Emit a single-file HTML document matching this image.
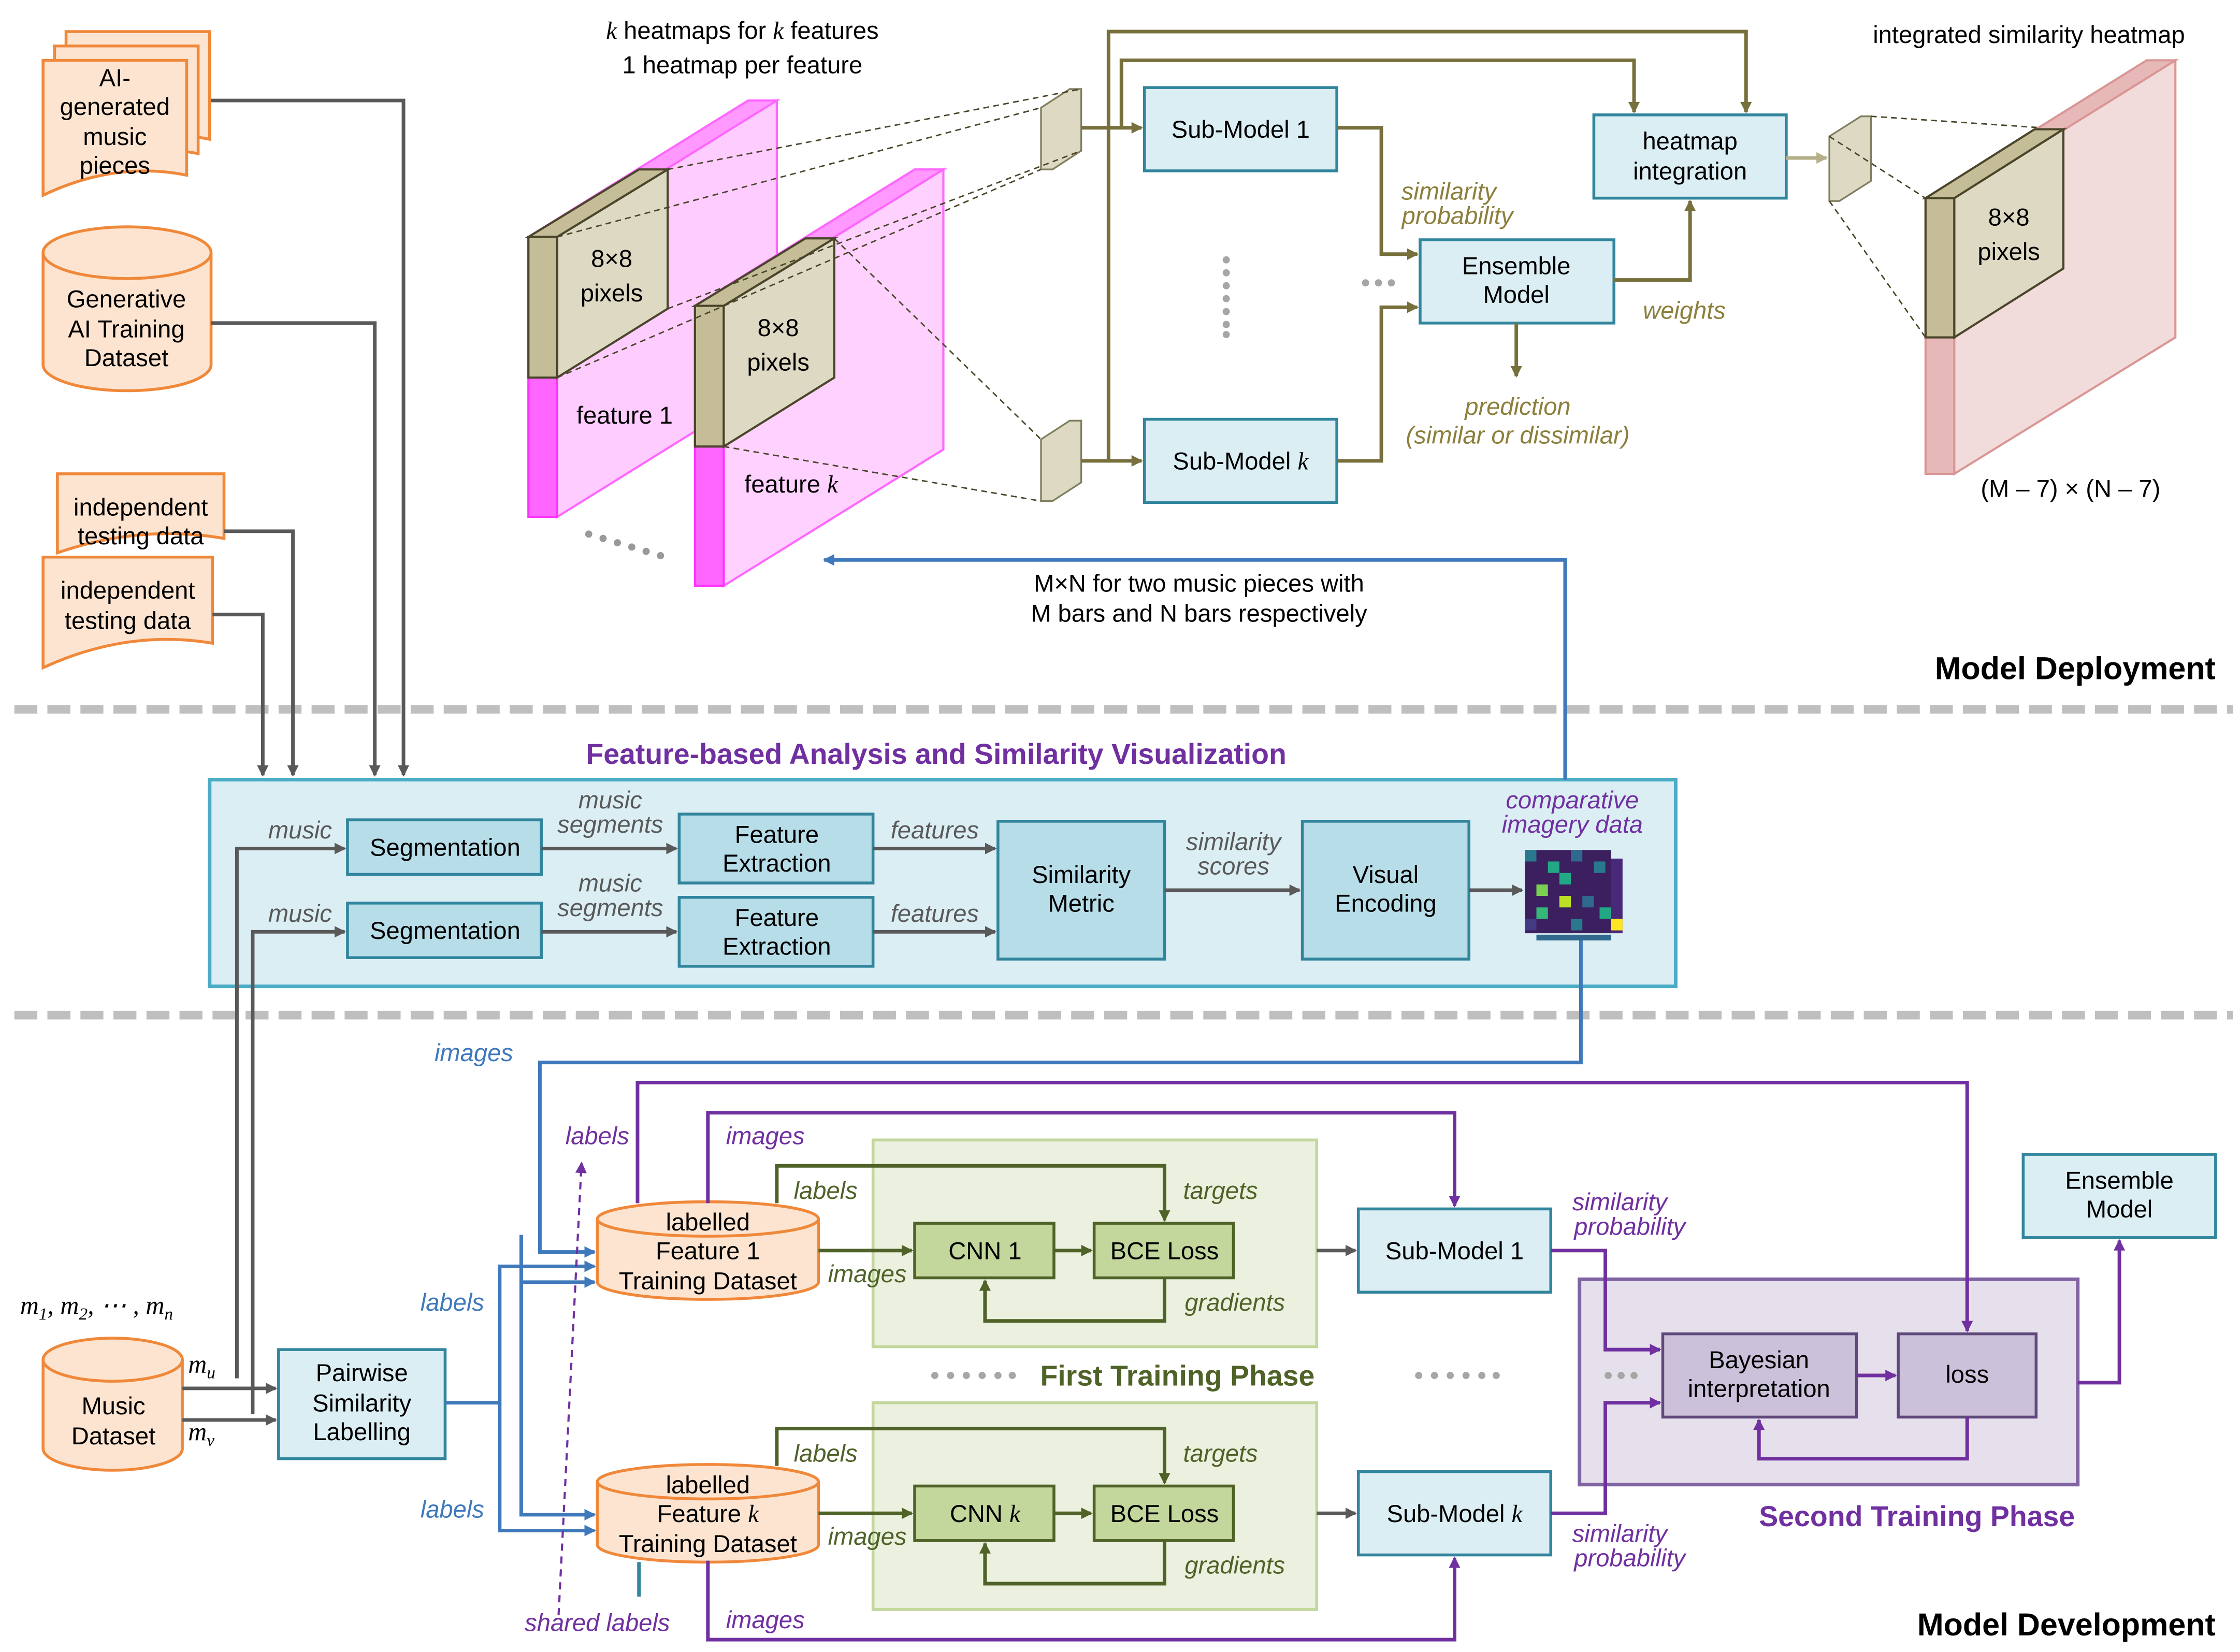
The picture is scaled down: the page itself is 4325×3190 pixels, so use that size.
<!DOCTYPE html>
<html><head><meta charset="utf-8"><style>html,body{margin:0;padding:0;background:#fff}svg{display:block}</style></head>
<body>
<svg width="4325" height="3190" viewBox="0 0 1560 1150.6" xmlns="http://www.w3.org/2000/svg" font-family="Liberation Sans, DejaVu Sans, sans-serif">
<defs>
<marker id="ag" markerWidth="8" markerHeight="8" refX="7" refY="4" orient="auto" markerUnits="userSpaceOnUse"><path d="M0,0 L8,4 L0,8z" fill="#595959"/></marker>
<marker id="ao" markerWidth="8" markerHeight="8" refX="7" refY="4" orient="auto" markerUnits="userSpaceOnUse"><path d="M0,0 L8,4 L0,8z" fill="#77703c"/></marker>
<marker id="ab" markerWidth="8" markerHeight="8" refX="7" refY="4" orient="auto" markerUnits="userSpaceOnUse"><path d="M0,0 L8,4 L0,8z" fill="#3f79bb"/></marker>
<marker id="ap" markerWidth="8" markerHeight="8" refX="7" refY="4" orient="auto" markerUnits="userSpaceOnUse"><path d="M0,0 L8,4 L0,8z" fill="#7030a0"/></marker>
<marker id="agr" markerWidth="8" markerHeight="8" refX="7" refY="4" orient="auto" markerUnits="userSpaceOnUse"><path d="M0,0 L8,4 L0,8z" fill="#4f6228"/></marker>
<marker id="al" markerWidth="8" markerHeight="8" refX="7" refY="4" orient="auto" markerUnits="userSpaceOnUse"><path d="M0,0 L8,4 L0,8z" fill="#b5b08a"/></marker>
</defs>
<g font-size="17" fill="#000">

<line x1="10" y1="494" x2="1555" y2="494" stroke="#bfbfbf" stroke-width="6" stroke-dasharray="16,7"/>
<line x1="10" y1="707" x2="1555" y2="707" stroke="#bfbfbf" stroke-width="6" stroke-dasharray="16,7"/>

<!-- middle box (drawn first so lines show on top) -->
<rect x="146" y="543" width="1021" height="144" fill="#dbeef4" stroke="#4bacc6" stroke-width="2.5"/>

<g fill="#fde4d0" stroke="#f0883a" stroke-width="2">
<path d="M46,22 h100 v75 q-50,-10 -100,12z"/>
<path d="M38,32 h100 v75 q-50,-10 -100,12z"/>
<path d="M30,42 h100 v80 q-50,-10 -100,14z"/>
<path d="M30,176 v78 a58,18 0 0 0 117,0 v-78"/>
<ellipse cx="88.5" cy="176" rx="58.5" ry="18"/>
<path d="M40,330 h116 v45 q-58,-10 -116,10z"/>
<path d="M30,388 h118 v60 q-59,-10 -118,17z"/>
<path d="M30,947 v62 a48.5,15 0 0 0 97,0 v-62"/>
<ellipse cx="78.5" cy="947" rx="48.5" ry="15"/>
</g>
<g text-anchor="middle">
<text x="80" y="60">AI-</text><text x="80" y="80">generated</text><text x="80" y="101">music</text><text x="80" y="121">pieces</text>
<text x="88" y="214">Generative</text><text x="88" y="235">AI Training</text><text x="88" y="255">Dataset</text>
<text x="98" y="359">independent</text><text x="98" y="379">testing data</text>
<text x="89" y="417">independent</text><text x="89" y="438">testing data</text>
<text x="79" y="985">Music</text><text x="79" y="1006">Dataset</text>
</g>
<g fill="none" stroke="#595959" stroke-width="2.5">
<path d="M147,70 H281 V540" marker-end="url(#ag)"/>
<path d="M147,225 H261 V540" marker-end="url(#ag)"/>
<path d="M156,370 H204 V540" marker-end="url(#ag)"/>
<path d="M148,428 H183 V540" marker-end="url(#ag)"/>
<path d="M127,967 H192" marker-end="url(#ag)"/>
<path d="M127,989 H192" marker-end="url(#ag)"/>
<path d="M165,960 V591 H240" marker-end="url(#ag)"/>
<path d="M176,985 V649 H240" marker-end="url(#ag)"/>
</g>

<text x="652" y="532" text-anchor="middle" font-weight="bold" font-size="20" fill="#7030a0">Feature-based Analysis and Similarity Visualization</text>
<g fill="#b7dde8" stroke="#31859c" stroke-width="2">
<rect x="242" y="571" width="135" height="38"/><rect x="242" y="629" width="135" height="38"/>
<rect x="473" y="567" width="135" height="48"/><rect x="473" y="625" width="135" height="48"/>
<rect x="695" y="572" width="116" height="96"/><rect x="907" y="572" width="116" height="96"/>
</g>
<g text-anchor="middle">
<text x="310" y="596">Segmentation</text><text x="310" y="654">Segmentation</text>
<text x="541" y="587">Feature</text><text x="541" y="607">Extraction</text>
<text x="541" y="645">Feature</text><text x="541" y="665">Extraction</text>
<text x="753" y="615">Similarity</text><text x="753" y="635">Metric</text>
<text x="965" y="615">Visual</text><text x="965" y="635">Encoding</text>
</g>
<g fill="none" stroke="#595959" stroke-width="2.5">
<path d="M377,591 H471" marker-end="url(#ag)"/><path d="M377,649 H471" marker-end="url(#ag)"/>
<path d="M608,591 H693" marker-end="url(#ag)"/><path d="M608,649 H693" marker-end="url(#ag)"/>
<path d="M811,620 H905" marker-end="url(#ag)"/><path d="M1023,620 H1060" marker-end="url(#ag)"/>
</g>
<g font-style="italic" fill="#595959" text-anchor="middle">
<text x="209" y="584">music</text><text x="209" y="642">music</text>
<text x="425" y="563">music</text><text x="425" y="580">segments</text>
<text x="425" y="621">music</text><text x="425" y="638">segments</text>
<text x="651" y="584">features</text><text x="651" y="642">features</text>
<text x="859" y="592">similarity</text><text x="859" y="609">scores</text>
</g>
<g font-style="italic" fill="#7030a0" text-anchor="middle"><text x="1095" y="563">comparative</text><text x="1095" y="580">imagery data</text></g>
<g>
<rect x="1062" y="592" width="60" height="58" fill="#3b1f5e"/>
<rect x="1062" y="592" width="8" height="8" fill="#2a788e"/><rect x="1078" y="600" width="8" height="8" fill="#22a884"/>
<rect x="1094" y="592" width="8" height="8" fill="#31688e"/><rect x="1110" y="600" width="8" height="8" fill="#2a788e"/>
<rect x="1070" y="616" width="8" height="8" fill="#7ad151"/><rect x="1086" y="608" width="8" height="8" fill="#22a884"/>
<rect x="1102" y="624" width="8" height="8" fill="#31688e"/><rect x="1070" y="632" width="8" height="8" fill="#35b779"/>
<rect x="1094" y="640" width="8" height="8" fill="#2a788e"/><rect x="1062" y="640" width="8" height="8" fill="#443983"/>
<rect x="1114" y="632" width="8" height="8" fill="#22a884"/><rect x="1086" y="624" width="8" height="8" fill="#bddf26"/>
<rect x="1122" y="598" width="8" height="52" fill="#482878"/><rect x="1122" y="640" width="8" height="8" fill="#fde725"/>
<rect x="1070" y="651" width="52" height="4" fill="#31688e"/>
</g>

<path d="M1090,543 V390 H574" fill="none" stroke="#3f79bb" stroke-width="2.5" marker-end="url(#ab)"/>
<text x="835" y="412" text-anchor="middle">M×N for two music pieces with</text>
<text x="835" y="433" text-anchor="middle">M bars and N bars respectively</text>
<text x="517" y="27" text-anchor="middle"><tspan font-style="italic" font-family="Liberation Serif, serif">k</tspan> heatmaps for <tspan font-style="italic" font-family="Liberation Serif, serif">k</tspan> features</text>
<text x="517" y="51" text-anchor="middle">1 heatmap per feature</text>

<g stroke-width="1.5">
<polygon points="388,165 541,70 541,265 388,360" fill="#ffccff" stroke="#ff66ff"/>
<polygon points="368,165 521,70 541,70 388,165" fill="#ff99ff" stroke="#ff66ff"/>
<rect x="368" y="165" width="20" height="195" fill="#ff66ff" stroke="#ff33ff"/>
<polygon points="388,165 465,118 465,215 388,263" fill="#ddd9c3" stroke="#4a452a"/>
<polygon points="368,165 445,118 465,118 388,165" fill="#c4bd97" stroke="#4a452a"/>
<rect x="368" y="165" width="20" height="98" fill="#c4bd97" stroke="#4a452a"/>
<polygon points="504,213 657,118 657,313 504,408" fill="#ffccff" stroke="#ff66ff" fill-opacity="0.9"/>
<polygon points="484,213 637,118 657,118 504,213" fill="#ff99ff" stroke="#ff66ff"/>
<rect x="484" y="213" width="20" height="195" fill="#ff66ff" stroke="#ff33ff"/>
<polygon points="504,213 581,166 581,263 504,311" fill="#ddd9c3" stroke="#4a452a"/>
<polygon points="484,213 561,166 581,166 504,213" fill="#c4bd97" stroke="#4a452a"/>
<rect x="484" y="213" width="20" height="98" fill="#c4bd97" stroke="#4a452a"/>
</g>
<g text-anchor="middle"><text x="426" y="186">8×8</text><text x="426" y="210">pixels</text>
<text x="542" y="234">8×8</text><text x="542" y="258">pixels</text>
<text x="435" y="295">feature 1</text><text x="551" y="343">feature <tspan font-style="italic" font-family="Liberation Serif, serif">k</tspan></text></g>
<g fill="#999"><circle cx="410" cy="372" r="2.5"/><circle cx="420" cy="375" r="2.5"/><circle cx="430" cy="378" r="2.5"/><circle cx="440" cy="381" r="2.5"/><circle cx="450" cy="384" r="2.5"/><circle cx="460" cy="387" r="2.5"/></g>
<g fill="#ddd9c3" stroke="#7f7f5f" stroke-width="1.2">
<polygon points="725,75 745,62 753,62 753,105 733,118 725,118"/>
<polygon points="725,306 745,293 753,293 753,336 733,349 725,349"/>
<polygon points="1274,95 1296,81 1303,81 1303,126 1281,140 1274,140"/>
</g>
<g stroke="#4a452a" stroke-width="1" stroke-dasharray="4,3" fill="none">
<line x1="388" y1="165" x2="725" y2="75"/><line x1="465" y1="118" x2="753" y2="62"/><line x1="388" y1="263" x2="725" y2="118"/><line x1="465" y1="215" x2="753" y2="105"/>
<line x1="581" y1="166" x2="725" y2="306"/><line x1="504" y1="311" x2="725" y2="349"/>
<line x1="1303" y1="81" x2="1437" y2="90"/><line x1="1274" y1="140" x2="1341" y2="235"/><line x1="1274" y1="95" x2="1341" y2="138"/>
</g>

<g fill="#dbeef4" stroke="#31859c" stroke-width="2">
<rect x="797" y="61" width="134" height="58"/><rect x="797" y="292" width="134" height="58"/>
<rect x="1110" y="80" width="134" height="58"/><rect x="989" y="167" width="135" height="58"/>
</g>
<g text-anchor="middle">
<text x="864" y="96">Sub-Model 1</text><text x="864" y="327">Sub-Model <tspan font-style="italic" font-family="Liberation Serif, serif">k</tspan></text>
<text x="1177" y="104">heatmap</text><text x="1177" y="125">integration</text>
<text x="1056" y="191">Ensemble</text><text x="1056" y="211">Model</text>
</g>
<g fill="none" stroke="#77703c" stroke-width="2.5">
<path d="M753,89 H795" marker-end="url(#ao)"/><path d="M753,321 H795" marker-end="url(#ao)"/>
<path d="M772,321 V22 H1216 V78" marker-end="url(#ao)"/>
<path d="M781,89 V42 H1138 V78" marker-end="url(#ao)"/>
<path d="M931,89 H962 V177 H987" marker-end="url(#ao)"/>
<path d="M931,321 H962 V214 H987" marker-end="url(#ao)"/>
<path d="M1124,195 H1177 V140" marker-end="url(#ao)"/>
<path d="M1056,225 V262" marker-end="url(#ao)"/>
</g>
<path d="M1244,110 H1272" stroke="#b5b08a" stroke-width="2.5" marker-end="url(#al)"/>
<g fill="#a6a6a6"><circle cx="854" cy="181" r="2.5"/><circle cx="854" cy="190" r="2.5"/><circle cx="854" cy="199" r="2.5"/><circle cx="854" cy="208" r="2.5"/><circle cx="854" cy="217" r="2.5"/><circle cx="854" cy="226" r="2.5"/><circle cx="854" cy="233" r="2.5"/>
<circle cx="951" cy="197" r="2.5"/><circle cx="960" cy="197" r="2.5"/><circle cx="969" cy="197" r="2.5"/></g>
<g font-style="italic" fill="#8c7f3c" text-anchor="middle">
<text x="1009" y="139">similarity</text><text x="1015" y="156">probability</text>
<text x="1173" y="222">weights</text>
<text x="1057" y="289">prediction</text><text x="1057" y="309">(similar or dissimilar)</text>
</g>

<text x="1413" y="30" text-anchor="middle">integrated similarity heatmap</text>
<g stroke-width="1.5">
<polygon points="1361,138 1515,42 1515,235 1361,330" fill="#f2dcdb" stroke="#d99694"/>
<polygon points="1341,138 1495,42 1515,42 1361,138" fill="#e6b9b8" stroke="#d99694"/>
<rect x="1341" y="138" width="20" height="192" fill="#e6b9b8" stroke="#d99694"/>
<polygon points="1361,138 1437,90 1437,187 1361,235" fill="#ddd9c3" stroke="#4a452a"/>
<polygon points="1341,138 1417,90 1437,90 1361,138" fill="#c4bd97" stroke="#4a452a"/>
<rect x="1341" y="138" width="20" height="97" fill="#c4bd97" stroke="#4a452a"/>
</g>
<text x="1399" y="157" text-anchor="middle">8×8</text><text x="1399" y="181" text-anchor="middle">pixels</text>
<text x="1442" y="346" text-anchor="middle">(M – 7) × (N – 7)</text>
<text x="1543" y="473" text-anchor="end" font-weight="bold" font-size="22">Model Deployment</text>

<text x="14" y="915" font-style="italic" font-family="Liberation Serif, serif" font-size="18">m<tspan font-size="12" dy="4">1</tspan><tspan dy="-4">, m</tspan><tspan font-size="12" dy="4">2</tspan><tspan dy="-4">, ⋯ , m</tspan><tspan font-size="12" dy="4">n</tspan></text>
<text x="131" y="956" font-style="italic" font-family="Liberation Serif, serif" font-size="18">m<tspan font-size="12" dy="4">u</tspan></text>
<text x="131" y="1003" font-style="italic" font-family="Liberation Serif, serif" font-size="18">m<tspan font-size="12" dy="4">v</tspan></text>
<rect x="194" y="940" width="116" height="76" fill="#dbeef4" stroke="#31859c" stroke-width="2"/>
<g text-anchor="middle"><text x="252" y="962">Pairwise</text><text x="252" y="983">Similarity</text><text x="252" y="1003">Labelling</text></g>

<rect x="608" y="794" width="309" height="144" fill="#ebf1de" stroke="#c3d69b" stroke-width="2"/>
<rect x="608" y="977" width="309" height="144" fill="#ebf1de" stroke="#c3d69b" stroke-width="2"/>
<g fill="#fde4d0" stroke="#f0883a" stroke-width="2">
<path d="M416,849 v44 a77,12 0 0 0 154,0 v-44"/><ellipse cx="493" cy="849" rx="77" ry="12"/>
<path d="M416,1032 v44 a77,12 0 0 0 154,0 v-44"/><ellipse cx="493" cy="1032" rx="77" ry="12"/>
</g>
<g text-anchor="middle">
<text x="493" y="857">labelled</text><text x="493" y="877">Feature 1</text><text x="493" y="898">Training Dataset</text>
<text x="493" y="1040">labelled</text><text x="493" y="1060">Feature <tspan font-style="italic" font-family="Liberation Serif, serif">k</tspan></text><text x="493" y="1081">Training Dataset</text>
</g>
<g fill="none" stroke="#3f79bb" stroke-width="2.5">
<path d="M310,977 H348 V882 H414" marker-end="url(#ab)"/>
<path d="M348,977 V1066 H414" marker-end="url(#ab)"/>
<path d="M1101,655 V740 H376 V872 H414" marker-end="url(#ab)"/>
<path d="M363,860 V1055 H414" marker-end="url(#ab)"/>
<path d="M363,893 H414" marker-end="url(#ab)"/>
</g>
<line x1="445" y1="1088" x2="445" y2="1112" stroke="#31859c" stroke-width="2.5"/>
<g font-style="italic" fill="#3f79bb" text-anchor="middle"><text x="330" y="739">images</text><text x="315" y="913">labels</text><text x="315" y="1057">labels</text></g>
<path d="M389,1125 L405,810" stroke="#7030a0" stroke-width="1.5" stroke-dasharray="5,4" fill="none" marker-end="url(#ap)"/>
<g font-style="italic" fill="#7030a0" text-anchor="middle"><text x="416" y="1136">shared labels</text><text x="416" y="797">labels</text>
<text x="533" y="797">images</text><text x="533" y="1134">images</text>
<text x="1128" y="843">similarity</text><text x="1135" y="860">probability</text>
<text x="1128" y="1074">similarity</text><text x="1135" y="1091">probability</text>
<text x="1409" y="913">targets</text><text x="1409" y="1007">weight</text><text x="1409" y="1024">update</text></g>

<g fill="#c3d69b" stroke="#4f6228" stroke-width="2">
<rect x="637" y="852" width="97" height="38"/><rect x="762" y="852" width="97" height="38"/>
<rect x="637" y="1035" width="97" height="38"/><rect x="762" y="1035" width="97" height="38"/>
</g>
<g text-anchor="middle"><text x="686" y="877">CNN 1</text><text x="811" y="877">BCE Loss</text>
<text x="686" y="1060">CNN <tspan font-style="italic" font-family="Liberation Serif, serif">k</tspan></text><text x="811" y="1060">BCE Loss</text></g>
<g fill="none" stroke="#4f6228" stroke-width="2.5">
<path d="M570,871 H635" marker-end="url(#agr)"/><path d="M734,871 H760" marker-end="url(#agr)"/>
<path d="M541,838 V812 H811 V850" marker-end="url(#agr)"/>
<path d="M811,890 V920 H686 V892" marker-end="url(#agr)"/>
<path d="M570,1054 H635" marker-end="url(#agr)"/><path d="M734,1054 H760" marker-end="url(#agr)"/>
<path d="M541,1021 V995 H811 V1033" marker-end="url(#agr)"/>
<path d="M811,1073 V1103 H686 V1075" marker-end="url(#agr)"/>
</g>
<g font-style="italic" fill="#4f6228" text-anchor="middle">
<text x="575" y="835">labels</text><text x="850" y="835">targets</text><text x="604" y="893">images</text><text x="860" y="913">gradients</text>
<text x="575" y="1018">labels</text><text x="850" y="1018">targets</text><text x="604" y="1076">images</text><text x="860" y="1096">gradients</text>
</g>
<text x="820" y="965" text-anchor="middle" font-weight="bold" font-size="20" fill="#4f6228">First Training Phase</text>
<g fill="#a6a6a6"><circle cx="651" cy="958" r="2.5"/><circle cx="662" cy="958" r="2.5"/><circle cx="673" cy="958" r="2.5"/><circle cx="684" cy="958" r="2.5"/><circle cx="695" cy="958" r="2.5"/><circle cx="705" cy="958" r="2.5"/>
<circle cx="988" cy="958" r="2.5"/><circle cx="999" cy="958" r="2.5"/><circle cx="1010" cy="958" r="2.5"/><circle cx="1021" cy="958" r="2.5"/><circle cx="1032" cy="958" r="2.5"/><circle cx="1042" cy="958" r="2.5"/></g>

<g fill="#dbeef4" stroke="#31859c" stroke-width="2">
<rect x="946" y="842" width="134" height="58"/><rect x="946" y="1025" width="134" height="58"/>
<rect x="1409" y="804" width="134" height="58"/>
</g>
<g text-anchor="middle"><text x="1013" y="877">Sub-Model 1</text><text x="1013" y="1060">Sub-Model <tspan font-style="italic" font-family="Liberation Serif, serif">k</tspan></text>
<text x="1476" y="828">Ensemble</text><text x="1476" y="848">Model</text></g>
<g fill="none" stroke="#595959" stroke-width="2.5"><path d="M917,871 H944" marker-end="url(#ag)"/><path d="M917,1054 H944" marker-end="url(#ag)"/></g>

<rect x="1100" y="891" width="347" height="143" fill="#e6e0ec" stroke="#8064a2" stroke-width="2.5"/>
<g fill="#ccc1da" stroke="#5f497a" stroke-width="2"><rect x="1158" y="929" width="135" height="58"/><rect x="1322" y="929" width="96" height="58"/></g>
<g text-anchor="middle"><text x="1225" y="953">Bayesian</text><text x="1225" y="973">interpretation</text><text x="1370" y="963">loss</text></g>
<g fill="#a6a6a6"><circle cx="1120" cy="958" r="2.5"/><circle cx="1129" cy="958" r="2.5"/><circle cx="1138" cy="958" r="2.5"/></g>
<text x="1335" y="1063" text-anchor="middle" font-weight="bold" font-size="20" fill="#7030a0">Second Training Phase</text>
<g fill="none" stroke="#7030a0" stroke-width="2.5">
<path d="M493,838 V775 H1013 V840" marker-end="url(#ap)"/>
<path d="M444,838 V754 H1370 V927" marker-end="url(#ap)"/>
<path d="M493,1087 V1142 H1013 V1085" marker-end="url(#ap)"/>
<path d="M1080,871 H1118 V940 H1156" marker-end="url(#ap)"/>
<path d="M1080,1054 H1118 V977 H1156" marker-end="url(#ap)"/>
<path d="M1293,958 H1320" marker-end="url(#ap)"/>
<path d="M1370,987 V1016 H1225 V989" marker-end="url(#ap)"/>
<path d="M1447,963 H1476 V864" marker-end="url(#ap)"/>
</g>
<text x="1543" y="1139" text-anchor="end" font-weight="bold" font-size="22">Model Development</text>
</g>
</svg>
</body></html>
